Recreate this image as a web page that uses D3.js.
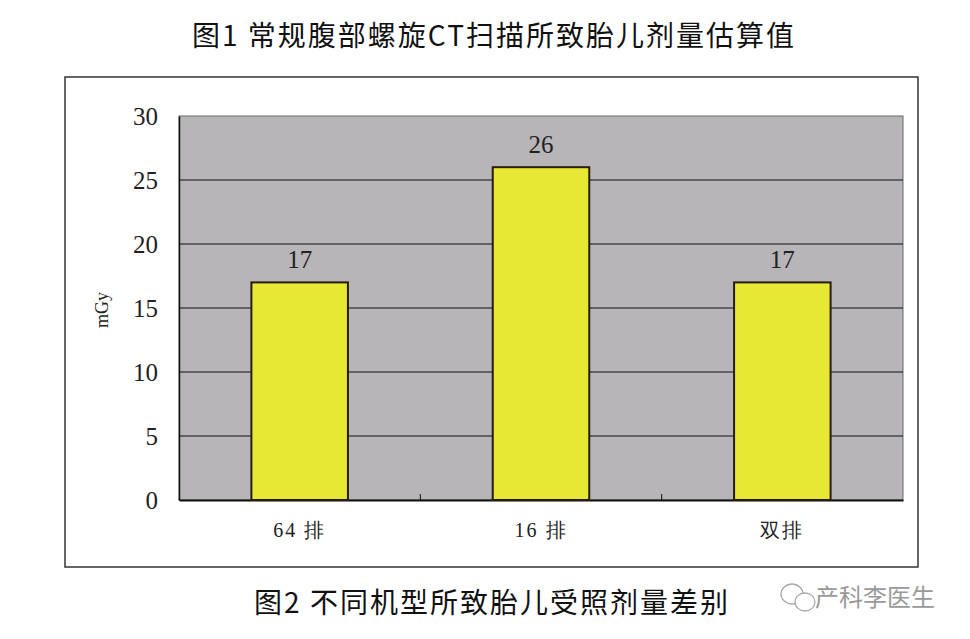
<!DOCTYPE html>
<html><head><meta charset="utf-8">
<script src="https://cdn.jsdelivr.net/npm/d3@7/dist/d3.min.js"></script>
<style>body{margin:0;background:#fff}svg{display:block}</style>
</head><body>
<script>
const categories = ["64 排", "16 排", "双排"];
const values = [17, 26, 17];
const yTicks = [0, 5, 10, 15, 20, 25, 30];
const title1 = "图1 常规腹部螺旋CT扫描所致胎儿剂量估算值";
const title2 = "图2 不同机型所致胎儿受照剂量差别";
const watermark = "产科李医生";
const yLabel = "mGy";

const W = 970, H = 639;
const svg = d3.select("body").append("svg").attr("width", W).attr("height", H);
const cjk = "'Noto Sans CJK SC', sans-serif";
const serif = "'Liberation Serif', 'DejaVu Serif', serif";

// titles
svg.append("text").attr("x", 494).attr("y", 46).attr("text-anchor", "middle")
  .style("font-family", cjk).style("font-size", "28px").attr("fill", "#111")
  .style("letter-spacing", "2px").text(title1);
svg.append("text").attr("x", 492).attr("y", 613).attr("text-anchor", "middle")
  .style("font-family", cjk).style("font-size", "28px").attr("fill", "#111")
  .style("letter-spacing", "2px").text(title2);

// outer frame
svg.append("rect").attr("x", 65).attr("y", 77).attr("width", 853).attr("height", 490)
  .attr("fill", "#fff").attr("stroke", "#333").attr("stroke-width", 1.5);

const m = {l: 179, r: 903, t: 116, b: 500};
const x = d3.scaleBand().domain(categories).range([m.l, m.r]).paddingInner(0.6).paddingOuter(0.3);
const xb = d3.scaleBand().domain(categories).range([m.l, m.r]);
const y = d3.scaleLinear().domain([0, 30]).range([m.b, m.t]);

// plot background
svg.append("rect").attr("x", m.l).attr("y", m.t).attr("width", m.r - m.l).attr("height", m.b - m.t)
  .attr("fill", "#b7b5b8").attr("stroke", "#6a6a6a").attr("stroke-width", 1);

// gridlines
svg.append("g").selectAll("line").data(yTicks.filter(d => d > 0 && d < 30)).join("line")
  .attr("x1", m.l).attr("x2", m.r).attr("y1", d => y(d)).attr("y2", d => y(d))
  .attr("stroke", "#111").attr("stroke-width", 1.2);

// y axis
const yAxis = svg.append("g").attr("transform", `translate(${m.l},0)`)
  .call(d3.axisLeft(y).tickValues(yTicks).tickSize(0).tickPadding(21));
yAxis.select(".domain").attr("stroke", "#111").attr("stroke-width", 1.5);
yAxis.selectAll("text").style("font-family", serif).style("font-size", "25px").attr("fill", "#222");

// x axis
const xAxis = svg.append("g").attr("transform", `translate(0,${m.b})`)
  .call(d3.axisBottom(xb).tickSize(0).tickPadding(23));
xAxis.select(".domain").attr("stroke", "#111").attr("stroke-width", 2);
xAxis.selectAll("text").style("font-family", serif).style("font-size", "20px")
  .style("letter-spacing", "2px").attr("fill", "#222");
// category boundary ticks
svg.append("g").selectAll("line").data(categories.slice(1)).join("line")
  .attr("x1", d => xb(d)).attr("x2", d => xb(d)).attr("y1", m.b).attr("y2", m.b - 6)
  .attr("stroke", "#111").attr("stroke-width", 1);

// bars
svg.append("g").selectAll("rect").data(values).join("rect")
  .attr("x", (d, i) => x(categories[i])).attr("width", x.bandwidth())
  .attr("y", d => y(d)).attr("height", d => y(0) - y(d))
  .attr("fill", "#e6e834").attr("stroke", "#2a1a08").attr("stroke-width", 2);

// value labels
svg.append("g").selectAll("text").data(values).join("text")
  .attr("x", (d, i) => x(categories[i]) + x.bandwidth() / 2).attr("y", d => y(d) - 14)
  .attr("text-anchor", "middle").style("font-family", serif).style("font-size", "25px")
  .attr("fill", "#222").text(d => d);

// y label
svg.append("text").attr("transform", "translate(108,310) rotate(-90)").attr("text-anchor", "middle")
  .style("font-family", serif).style("font-size", "18px").attr("fill", "#222").text(yLabel);

// watermark
const wm = svg.append("g").attr("fill", "none").attr("stroke", "#aaa").attr("stroke-width", 1.3);
wm.append("ellipse").attr("cx", 792).attr("cy", 594).attr("rx", 11).attr("ry", 10);
wm.append("ellipse").attr("cx", 805).attr("cy", 602).attr("rx", 10).attr("ry", 9).attr("fill", "#fff");
svg.append("text").attr("x", 815).attr("y", 606)
  .style("font-family", cjk).style("font-size", "24px").attr("fill", "#999").text(watermark);
</script>
</body></html>
